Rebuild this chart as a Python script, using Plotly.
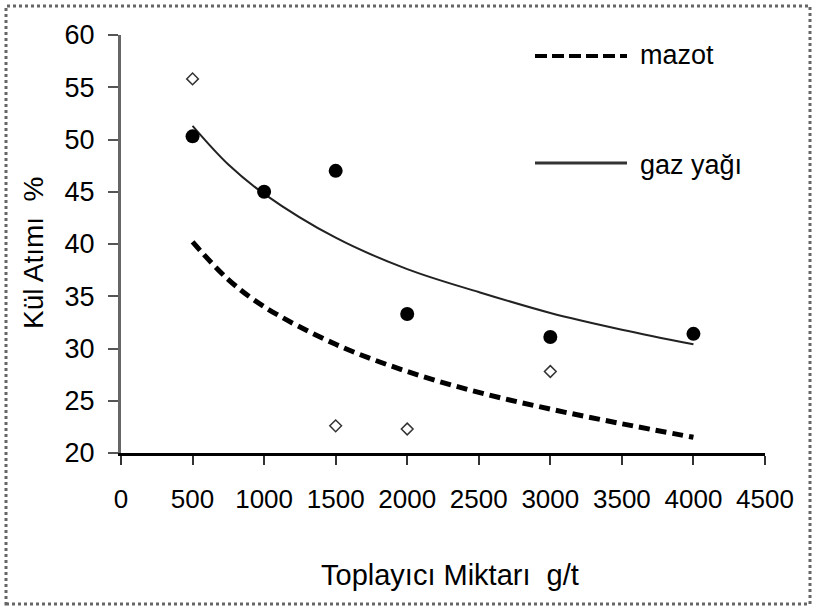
import plotly.graph_objects as go

# Observed points
gaz_x = [500, 1000, 1500, 2000, 3000, 4000]
gaz_y = [50.3, 45.0, 47.0, 33.3, 31.1, 31.4]
mazot_x = [500, 1500, 2000, 3000]
mazot_y = [55.8, 22.6, 22.3, 27.8]

# Trend lines
trend_x = [500, 750, 1000, 1500, 2000, 2500, 3000, 3500, 4000]
gaz_trend = [51.3, 47.6, 44.8, 40.6, 37.6, 35.4, 33.4, 31.8, 30.4]
mazot_trend = [40.2, 36.6, 34.0, 30.4, 27.8, 25.8, 24.2, 22.8, 21.5]

x_ticks = [0, 500, 1000, 1500, 2000, 2500, 3000, 3500, 4000, 4500]
y_ticks = [20, 25, 30, 35, 40, 45, 50, 55, 60]

NARROW = "Liberation Sans Narrow, Arial Narrow, Liberation Sans, sans-serif"
SANS = "Liberation Sans, Arial, sans-serif"

fig = go.Figure()
fig.add_trace(go.Scatter(x=trend_x, y=mazot_trend, mode="lines", line_shape="spline",
                         line=dict(color="black", width=5, dash="11px,6px"), showlegend=False))
fig.add_trace(go.Scatter(x=trend_x, y=gaz_trend, mode="lines", line_shape="spline",
                         line=dict(color="#222", width=2), showlegend=False))
fig.add_trace(go.Scatter(x=gaz_x, y=gaz_y, mode="markers",
                         marker=dict(symbol="circle", size=14, color="black"), showlegend=False))
fig.add_trace(go.Scatter(x=mazot_x, y=mazot_y, mode="markers",
                         marker=dict(symbol="diamond-open", size=9, color="#333",
                                     line=dict(width=1.5)), showlegend=False))

L, R, T, B = 121, 49, 35, 158
W, H = 814, 611
pw, ph = W - L - R, H - T - B
def px(x): return (x - L) / pw
def py(y): return (H - B - y) / ph

shapes = [
    dict(type="rect", xref="paper", yref="paper", x0=px(6), x1=px(810), y0=py(604), y1=py(6),
         line=dict(color="#666", width=3, dash="dot")),
    dict(type="line", xref="paper", yref="paper", x0=px(535), x1=px(627), y0=py(56), y1=py(56),
         line=dict(color="black", width=4, dash="12px,5px")),
    dict(type="line", xref="paper", yref="paper", x0=px(535), x1=px(627), y0=py(163), y1=py(163),
         line=dict(color="#333", width=3)),
]
annotations = [
    dict(text="mazot", xref="paper", yref="paper", x=px(638), y=py(55), xanchor="left",
         yanchor="middle", showarrow=False, font=dict(family=NARROW, size=27, color="black")),
    dict(text="gaz yağı", xref="paper", yref="paper", x=px(638), y=py(165), xanchor="left",
         yanchor="middle", showarrow=False, font=dict(family=NARROW, size=27, color="black")),
    dict(text="Toplayıcı Miktarı  g/t", xref="paper", yref="paper", x=px(450), y=py(575),
         xanchor="center", yanchor="middle", showarrow=False,
         font=dict(family=NARROW, size=29, color="black")),
    dict(text="Kül Atımı  %", xref="paper", yref="paper", x=px(34), y=py(253), textangle=-90,
         xanchor="center", yanchor="middle", showarrow=False,
         font=dict(family=NARROW, size=28, color="black")),
]

fig.update_layout(
    width=W, height=H, margin=dict(l=L, r=R, t=T, b=B),
    paper_bgcolor="white", plot_bgcolor="white",
    shapes=shapes, annotations=annotations,
    xaxis=dict(range=[0, 4500], tickvals=x_ticks, ticktext=[str(v) for v in x_ticks],
               showgrid=False, zeroline=False, showline=True, linecolor="black", linewidth=3,
               ticks="outside", ticklen=9, tickwidth=2, tickcolor="#333",
               tickfont=dict(family=NARROW, size=26, color="black"), ticklabelstandoff=12),
    yaxis=dict(range=[20, 60], tickvals=y_ticks, ticktext=[str(v) for v in y_ticks],
               showgrid=False, zeroline=False, showline=True, linecolor="#666", linewidth=3,
               ticks="outside", ticklen=10, tickwidth=2, tickcolor="#555",
               tickfont=dict(family=SANS, size=27, color="black"), ticklabelstandoff=8),
)

fig.write_html("out.html")
